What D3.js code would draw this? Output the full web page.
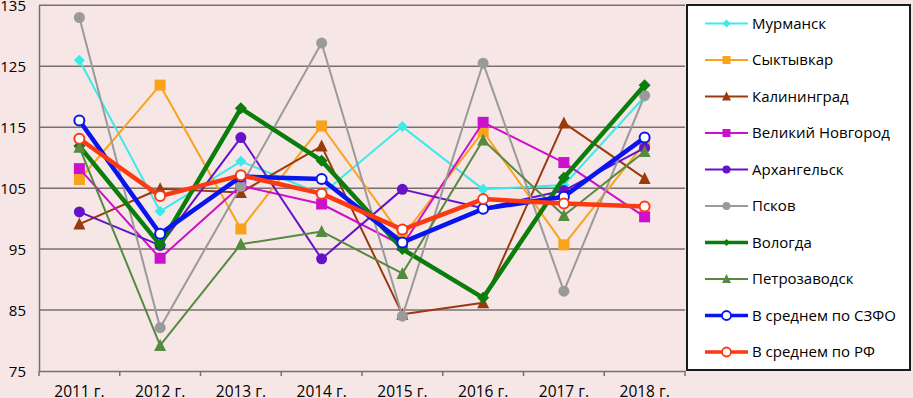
<!DOCTYPE html>
<html><head><meta charset="utf-8">
<script src="https://cdn.jsdelivr.net/npm/d3@7"></script>
<style>
html,body{margin:0;padding:0;background:#f6e6e6;}
svg{display:block;}
text{font-family:"Open Sans","Noto Sans",sans-serif;fill:#000;}
</style></head>
<body>
<svg id="chart" width="913" height="398"></svg>
<script>
const years = ["2011 г.","2012 г.","2013 г.","2014 г.","2015 г.","2016 г.","2017 г.","2018 г."];
const yTicks = [75,85,95,105,115,125,135];

const murmansk      = [126.0,101.2,109.4,104.0,115.1,104.8,105.5,120.0];
const syktyvkar     = [106.4,121.9, 98.3,115.2, 97.0,114.3, 95.7,112.4];
const kaliningrad   = [ 99.1,104.9,104.3,111.9, 84.3, 86.2,115.7,106.6];
const novgorod      = [108.2, 93.5,105.4,102.4, 95.6,115.8,109.2,100.3];
const arkhangelsk   = [101.1, 95.6,113.3, 93.4,104.8,101.7,104.6,111.6];
const pskov         = [133.0, 82.1,105.3,128.8, 84.0,125.5, 88.1,120.2];
const vologda       = [111.9, 95.7,118.1,109.5, 95.0, 87.0,106.7,121.9];
const petrozavodsk  = [111.7, 79.2, 95.8, 97.9, 91.0,112.9,100.5,111.0];
const szfo          = [116.1, 97.5,106.9,106.5, 96.1,101.6,103.6,113.3];
const rf            = [113.1,103.7,107.1,104.1, 98.2,103.2,102.5,102.0];

const seriesNames = ["Мурманск","Сыктывкар","Калининград","Великий Новгород","Архангельск","Псков","Вологда","Петрозаводск","В среднем по СЗФО","В среднем по РФ"];
const seriesValues = [murmansk,syktyvkar,kaliningrad,novgorod,arkhangelsk,pskov,vologda,petrozavodsk,szfo,rf];
const seriesStyle = [
  {color:"#3deaea", width:2,   marker:"diamond",  size:11, fill:null},
  {color:"#f9a21b", width:2,   marker:"square",   size:11, fill:null},
  {color:"#9b3a0c", width:2,   marker:"triangle", size:11, fill:null},
  {color:"#cc10cc", width:2,   marker:"square",   size:11, fill:null},
  {color:"#6612c8", width:2,   marker:"circle",   size:11, fill:null},
  {color:"#9a9a9a", width:2,   marker:"circle",   size:11, fill:null},
  {color:"#0a7d0a", width:4.5, marker:"diamond",  size:12, fill:null},
  {color:"#558a40", width:2,   marker:"triangle", size:11, fill:null},
  {color:"#0a14ee", width:4.5, marker:"circle",   size:10, fill:"#ffffff"},
  {color:"#fa3a12", width:4.5, marker:"circle",   size:10, fill:"#ffffff"}
];

const svg = d3.select("#chart");
const plot = {left:39, right:685, top:5.3, bottom:371};

const x = d3.scaleBand().domain(years).range([plot.left, plot.right]);
const y = d3.scaleLinear().domain([75,135]).range([plot.bottom, plot.top]);

// gridlines
svg.append("g").selectAll("line").data(yTicks.filter(v=>v>75)).join("line")
  .attr("x1",plot.left).attr("x2",plot.right)
  .attr("y1",d=>y(d)).attr("y2",d=>y(d))
  .attr("stroke","#7a6f6f").attr("stroke-width",1.5);

// y axis
const yAxis = svg.append("g").attr("transform",`translate(${plot.left},0)`)
  .call(d3.axisLeft(y).tickValues(yTicks).tickSize(0).tickPadding(13));
yAxis.select(".domain").attr("stroke","#7a6f6f").attr("stroke-width",1.5);
yAxis.selectAll("text").style("font-size","15px").attr("dy","0.35em");

// x axis
const xAxis = svg.append("g").attr("transform",`translate(0,${plot.bottom})`)
  .call(d3.axisBottom(x).tickSize(0).tickPadding(15));
xAxis.select(".domain").attr("stroke","#7a6f6f").attr("stroke-width",1.5);
xAxis.selectAll("text").style("font-size","15.5px");
svg.append("g").selectAll("line").data(d3.range(years.length+1)).join("line")
  .attr("x1",i=>plot.left + i*x.step()).attr("x2",i=>plot.left + i*x.step())
  .attr("y1",plot.bottom).attr("y2",plot.bottom+5)
  .attr("stroke","#7a6f6f").attr("stroke-width",1.5);

function markerPath(type,size){
  const s=size/2;
  if(type==="diamond") return `M0,${-s}L${s},0L0,${s}L${-s},0Z`;
  if(type==="square") return `M${-s},${-s}H${s}V${s}H${-s}Z`;
  if(type==="triangle") return `M0,${-s-1}L${s+0.5},${s}L${-s-0.5},${s}Z`;
  return d3.arc()({innerRadius:0,outerRadius:s,startAngle:0,endAngle:2*Math.PI});
}

const line = d3.line().x((d,i)=>x(years[i])+x.bandwidth()/2).y(d=>y(d));

seriesValues.forEach((vals,k)=>{
  const st=seriesStyle[k];
  const g=svg.append("g");
  g.append("path").datum(vals).attr("d",line)
    .attr("fill","none").attr("stroke",st.color).attr("stroke-width",st.width)
    .attr("stroke-linejoin","round");
  g.selectAll("path.m").data(vals).join("path").attr("class","m")
    .attr("transform",(d,i)=>`translate(${x(years[i])+x.bandwidth()/2},${y(d)})`)
    .attr("d",markerPath(st.marker,st.size))
    .attr("fill",st.fill||st.color)
    .attr("stroke",st.fill?st.color:"none").attr("stroke-width",st.fill?2:0);
});

// legend
const lg = svg.append("g");
lg.append("rect").attr("x",687).attr("y",5).attr("width",223).attr("height",365)
  .attr("fill","#ffffff").attr("stroke","#1a1a1a").attr("stroke-width",2);
seriesNames.forEach((name,k)=>{
  const st=seriesStyle[k];
  const cy=23.5 + k*36.5;
  lg.append("line").attr("x1",705).attr("x2",748).attr("y1",cy).attr("y2",cy)
    .attr("stroke",st.color).attr("stroke-width",st.width>3?3.5:2);
  const ms = st.marker==="diamond" ? (k===6?7:8) : (st.fill?9:8);
  lg.append("path").attr("transform",`translate(726.5,${cy})`)
    .attr("d",markerPath(st.marker,ms))
    .attr("fill",st.fill||st.color)
    .attr("stroke",st.fill?st.color:"none").attr("stroke-width",st.fill?1.8:0);
  lg.append("text").attr("x",752).attr("y",cy).attr("dy","0.35em")
    .style("font-size","15px").text(name);
});
</script>
</body></html>
